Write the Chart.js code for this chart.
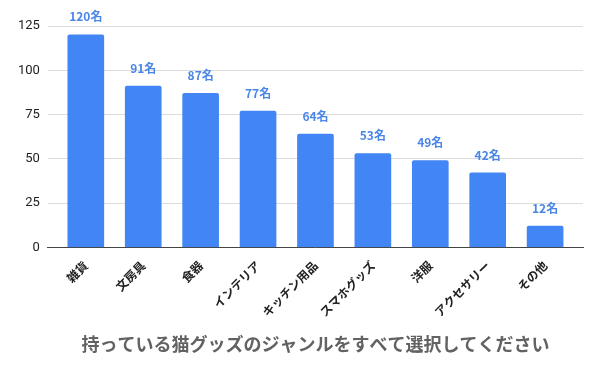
<!DOCTYPE html>
<html>
<head>
<meta charset="utf-8">
<script src="https://cdn.jsdelivr.net/npm/chart.js@4"></script>
<style>
  html, body { margin: 0; padding: 0; background: #fff; }
  #wrap { width: 602px; height: 372px; }
</style>
</head>
<body>
<div id="wrap"><canvas id="chart" width="602" height="372"></canvas></div>
<script>
var categories = ['雑貨', '文房具', '食器', 'インテリア', 'キッチン用品', 'スマホグッズ', '洋服', 'アクセサリー', 'その他'];
var counts = [120, 91, 87, 77, 64, 53, 49, 42, 12];
var yTicks = [0, 25, 50, 75, 100, 125];
var titleText = '持っている猫グッズのジャンルをすべて選択してください';

var FONT = "'Noto Sans CJK JP', Roboto, sans-serif";

// draws "NN名" above every bar
var valueLabels = {
    id: 'valueLabels',
    afterDatasetsDraw: function(chart) {
        var ctx = chart.ctx;
        var meta = chart.getDatasetMeta(0);
        ctx.save();
        ctx.font = 'bold 12px ' + FONT;
        ctx.fillStyle = '#4a86e8';
        ctx.textAlign = 'center';
        ctx.textBaseline = 'bottom';
        meta.data.forEach(function(bar, i) {
            ctx.fillText(counts[i] + '名', bar.x, bar.y - 12);
        });
        ctx.restore();
    }
};

var points = counts.map(function(v, i) { return { x: i, y: v }; });

new Chart(document.getElementById('chart'), {
    type: 'bar',
    data: {
        datasets: [{
            data: points,
            backgroundColor: '#4285f4',
            borderRadius: 2,
            borderSkipped: 'bottom',
            barThickness: 36
        }]
    },
    options: {
        responsive: false,
        animation: false,
        layout: { padding: { top: 26, right: 19, left: 10, bottom: 17 } },
        plugins: {
            legend: { display: false },
            tooltip: { enabled: false }
        },
        scales: {
            x: {
                type: 'linear',
                offset: false,
                min: -0.66,
                max: 8.66,
                afterBuildTicks: function(scale) {
                    scale.ticks = categories.map(function(c, i) { return { value: i }; });
                },
                afterFit: function(scale) {
                    scale.paddingLeft = 0;
                    scale.paddingRight = 0;
                },
                grid: { display: false },
                border: { display: true, color: '#444', width: 1 },
                ticks: {
                    autoSkip: false,
                    minRotation: 45,
                    maxRotation: 45,
                    color: '#222',
                    font: { family: FONT, size: 12, weight: 'bold' },
                    callback: function(value) { return categories[value]; }
                },
                title: {
                    display: true,
                    text: titleText,
                    color: '#626262',
                    font: { family: FONT, size: 18, weight: 'bold' },
                    padding: { top: 11, bottom: 0 }
                }
            },
            y: {
                min: 0,
                max: 125,
                afterBuildTicks: function(scale) {
                    scale.ticks = yTicks.map(function(v) { return { value: v }; });
                },
                grid: { color: '#dcdcdc', drawTicks: false },
                border: { display: false },
                ticks: {
                    padding: 8,
                    color: '#222',
                    font: { family: 'Roboto, sans-serif', size: 13 }
                }
            }
        }
    },
    plugins: [valueLabels]
});
</script>
</body>
</html>
